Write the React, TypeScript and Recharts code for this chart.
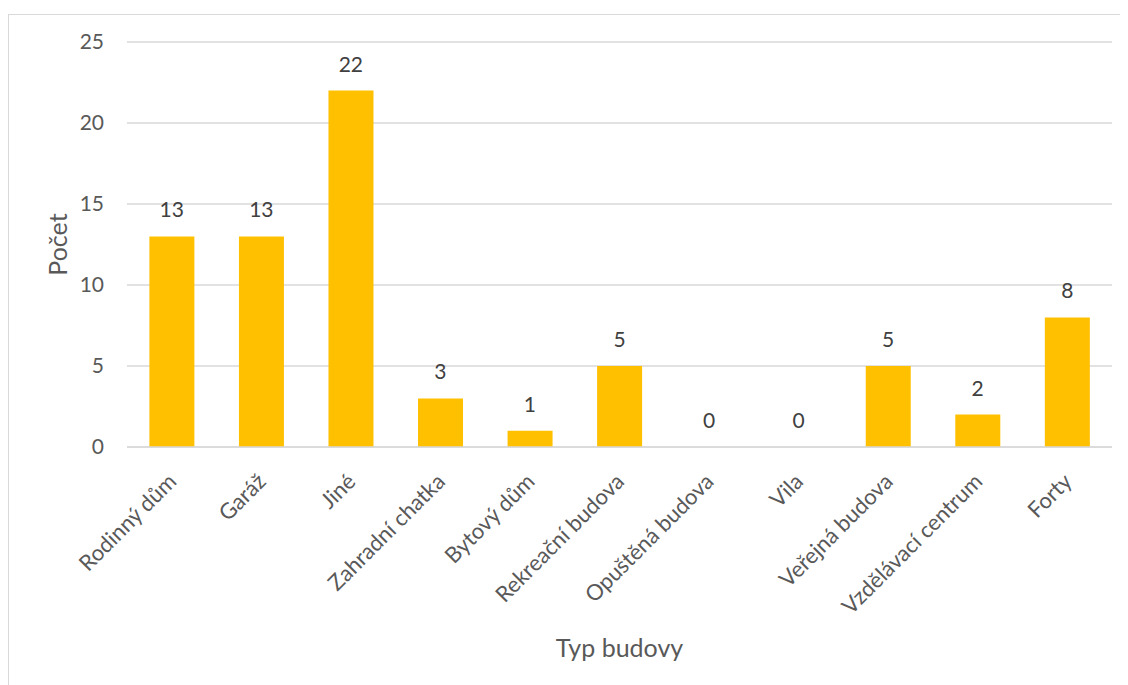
import { Bar, CartesianGrid, ComposedChart, LabelList, Line, XAxis, YAxis } from "recharts";

const categories = [
  "Rodinný dům",
  "Garáž",
  "Jiné",
  "Zahradní chatka",
  "Bytový dům",
  "Rekreační budova",
  "Opuštěná budova",
  "Vila",
  "Veřejná budova",
  "Vzdělávací centrum",
  "Forty",
];
const counts = [13, 13, 22, 3, 1, 5, 0, 0, 5, 2, 8];
const yTicks = [0, 5, 10, 15, 20, 25];

const data = categories.map((name, i) => ({ name, count: counts[i] }));

const FONT = "Lato, 'Open Sans', sans-serif";

function CategoryTick(props: any) {
  const { x, y, payload } = props;
  return (
    <g transform={`translate(${x + 6},${y + 36})`}>
      <text
        x={0}
        y={0}
        textAnchor="end"
        transform="rotate(-45)"
        fill="#595959"
        fontSize={22}
        fontFamily={FONT}
      >
        {payload.value}
      </text>
    </g>
  );
}

export default function App() {
  return (
    <div
      style={{
        marginTop: 6,
        width: 1130,
        height: 680,
        borderTop: "1px solid #d9d9d9",
        borderLeft: "1px solid #d9d9d9",
        background: "#fff",
        overflow: "hidden",
      }}
    >
      <ComposedChart
        width={1119}
        height={670}
        data={data}
        margin={{ top: 27, right: 16, bottom: 0, left: 0 }}
        barCategoryGap="25%"
        style={{ fontFamily: FONT }}
      >
        <CartesianGrid vertical={false} stroke="#d9d9d9" strokeWidth={1.5} />
        <XAxis
          dataKey="name"
          height={238}
          interval={0}
          tickLine={false}
          tickSize={0}
          tickMargin={0}
          axisLine={{ stroke: "#d9d9d9", strokeWidth: 1.5 }}
          tick={<CategoryTick />}
          label={{
            content: (p: any) => {
              const vb = p.viewBox;
              return (
                <text
                  x={vb.x + vb.width / 2}
                  y={642}
                  textAnchor="middle"
                  fill="#595959"
                  fontSize={25}
                  fontFamily={FONT}
                >
                  Typ budovy
                </text>
              );
            },
          }}
        />
        <YAxis
          width={118}
          domain={[0, 25]}
          ticks={yTicks}
          interval={0}
          axisLine={false}
          tickLine={false}
          tickSize={0}
          tickMargin={23}
          tick={{ fill: "#595959", fontSize: 21, fontFamily: FONT }}
          label={{
            content: (p: any) => {
              const vb = p.viewBox;
              const cx = 48;
              const cy = vb.y + vb.height / 2;
              return (
                <text
                  x={cx}
                  y={cy}
                  textAnchor="middle"
                  dominantBaseline="central"
                  transform={`rotate(-90, ${cx}, ${cy})`}
                  fill="#595959"
                  fontSize={25}
                  fontFamily={FONT}
                >
                  Počet
                </text>
              );
            },
          }}
        />
        <Bar dataKey="count" fill="#ffc000" isAnimationActive={false} />
        <Line
          dataKey="count"
          stroke="none"
          dot={false}
          activeDot={false}
          legendType="none"
          isAnimationActive={false}
        >
          <LabelList
            dataKey="count"
            position="top"
            offset={19}
            fill="#404040"
            fontSize={21}
            fontFamily={FONT}
          />
        </Line>
      </ComposedChart>
    </div>
  );
}
